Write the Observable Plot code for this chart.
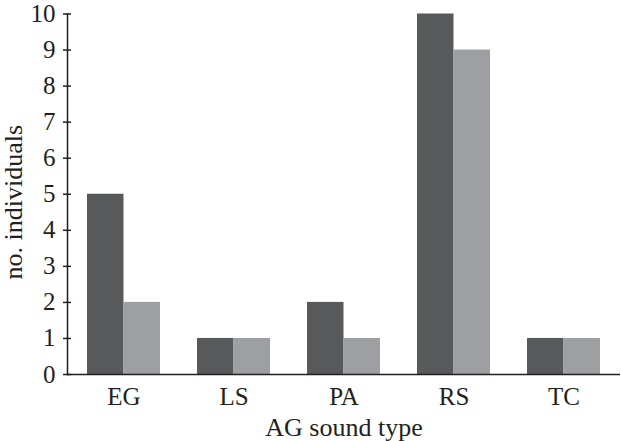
<!DOCTYPE html>
<html>
<head>
<meta charset="utf-8">
<script src="https://cdn.jsdelivr.net/npm/d3@7"></script>
<script src="https://cdn.jsdelivr.net/npm/@observablehq/plot@0.6"></script>
<style>
  html, body { margin: 0; padding: 0; background: #fff; }
  #chart { width: 621px; height: 441px; }
</style>
</head>
<body>
<div id="chart"></div>
<script>
const categories = ["EG", "LS", "PA", "RS", "TC"];
const seriesDark = [5, 1, 2, 10, 1];
const seriesLight = [2, 1, 1, 9, 1];
const yTicks = [0, 1, 2, 3, 4, 5, 6, 7, 8, 9, 10];
const xLabel = "AG sound type";
const yLabel = "no. individuals";

const rows = categories.map((c, i) => ({cat: c, dark: seriesDark[i], light: seriesLight[i]}));

const W = 621, H = 441;
const mL = 67, mR = 1, mT = 13.5, mB = 67;
const padIn = 0.34, padOut = 0.17;
const step = (W - mL - mR) / (categories.length - padIn + 2 * padOut);
const half = step * (1 - padIn) / 2;
const ink = "#231f20";
const font = "Liberation Serif";

const plot = Plot.plot({
  width: W, height: H,
  marginLeft: mL, marginRight: mR, marginTop: mT, marginBottom: mB,
  style: {fontFamily: font, fontSize: "25px", color: ink, background: "#fff"},
  x: {domain: categories, paddingInner: padIn, paddingOuter: padOut},
  y: {domain: [0, 10]},
  marks: [
    Plot.barY(rows, {x: "cat", y: "dark", fill: "#58595b", insetRight: half}),
    Plot.barY(rows, {x: "cat", y: "light", fill: "#9d9fa2", insetLeft: half}),
    Plot.gridY(yTicks, {stroke: ink, strokeOpacity: 1, strokeWidth: 1.5, insetRight: W - mL - mR - 4}),
    Plot.axisY({ticks: yTicks, tickSize: 4, tickPadding: 8, tickFormat: d3.format("d"), fontSize: 25, strokeWidth: 1.5,
      label: null}),
    Plot.text([yLabel], {frameAnchor: "left", textAnchor: "middle", rotate: -90, dx: -54, dy: 8, lineAnchor: "middle", fontSize: 26, fill: ink}),
    Plot.axisX({tickSize: 0, tickPadding: 13, fontSize: 25, label: null}),
    Plot.axisX({ticks: [], tickSize: 0, fontSize: 26, label: xLabel, labelArrow: "none", labelAnchor: "center", labelOffset: 61}),
    Plot.frame({anchor: "left", stroke: ink, strokeWidth: 1.5}),
    Plot.ruleY([0], {stroke: ink, strokeWidth: 1.5})
  ]
});
document.getElementById("chart").append(plot);
</script>
</body>
</html>
